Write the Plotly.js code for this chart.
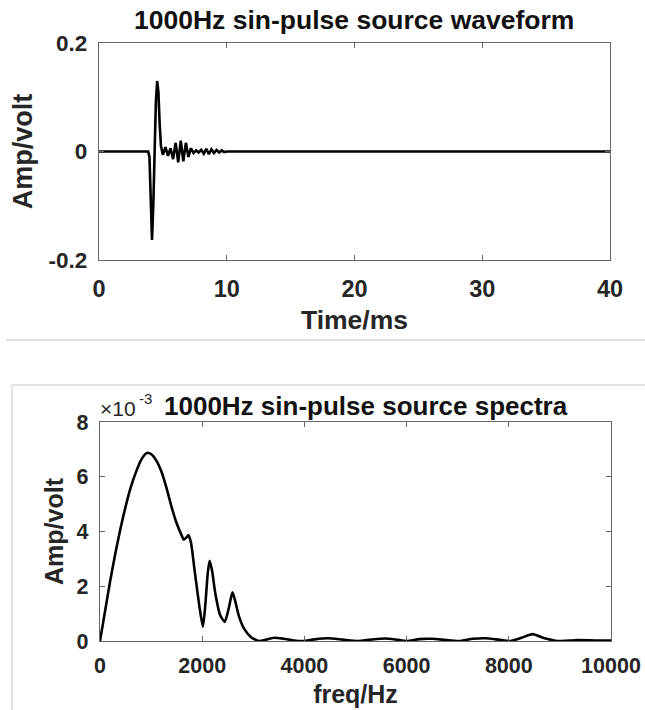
<!DOCTYPE html>
<html>
<head>
<meta charset="utf-8">
<script src="https://cdn.plot.ly/plotly-3.0.1.min.js"></script>
<style>
html,body{margin:0;padding:0;background:#fff;}
#chart{width:645px;height:710px;}
</style>
</head>
<body>
<div id="chart"></div>
<script>
// ---- Waveform (top) ----
var waveTime = [0, 3.85, 3.95, 4.05, 4.15, 4.25, 4.35, 4.45, 4.55, 4.65, 4.75, 4.85, 5.0, 5.2, 5.4, 5.6, 5.8, 6.0, 6.2, 6.4, 6.6, 6.8, 7.0, 7.2, 7.4, 7.6, 7.8, 8.0, 8.2, 8.4, 8.6, 8.8, 9.0, 9.2, 9.4, 9.6, 9.8, 10, 12, 40];
var waveAmp  = [0, 0, -0.01, -0.10, -0.163, -0.10, 0.0, 0.09, 0.13, 0.11, 0.05, 0.01, -0.006, 0.008, -0.008, 0.006, -0.014, 0.016, -0.02, 0.02, -0.018, 0.016, -0.01, 0.006, -0.003, 0.002, -0.002, 0.003, -0.004, 0.005, -0.005, 0.004, -0.003, 0.003, -0.002, 0.002, -0.001, 0, 0, 0];
var waveXTicks = [0, 10, 20, 30, 40];
var waveXTickText = ["0", "10", "20", "30", "40"];
var waveYTicks = [-0.2, 0, 0.2];
var waveYTickText = ["-0.2", "0", "0.2"];

// ---- Spectrum (bottom), amplitude in units of 1e-3 volt ----
var specFreq = [0, 100, 200, 300, 400, 500, 600, 700, 800, 900, 950, 1000, 1100, 1200, 1300, 1400, 1500, 1600, 1640, 1700, 1730, 1780, 1850, 1950, 2014, 2060, 2110, 2146, 2190, 2260, 2350, 2441, 2520, 2592, 2640, 2720, 2820, 2950, 3110, 3250, 3410, 3600, 3800, 3970, 4200, 4460, 4750, 5050, 5300, 5580, 5800, 6000, 6250, 6500, 6750, 7020, 7300, 7540, 7800, 8030, 8250, 8465, 8700, 8960, 9300, 9700, 10000];
var specAmp = [0, 1.1, 2.2, 3.2, 4.1, 4.9, 5.6, 6.15, 6.6, 6.85, 6.87, 6.83, 6.6, 6.2, 5.6, 4.9, 4.3, 3.85, 3.7, 3.8, 3.87, 3.6, 2.6, 1.2, 0.52, 1.3, 2.5, 2.93, 2.6, 1.7, 0.95, 0.7, 1.2, 1.78, 1.5, 0.9, 0.45, 0.15, 0.0, 0.05, 0.12, 0.08, 0.02, 0.0, 0.06, 0.1, 0.05, 0.0, 0.05, 0.09, 0.05, 0.0, 0.07, 0.08, 0.04, 0.0, 0.08, 0.1, 0.05, 0.0, 0.12, 0.25, 0.1, 0.0, 0.03, 0.02, 0.02];
var specXTicks = [0, 2000, 4000, 6000, 8000, 10000];
var specXTickText = ["0", "2000", "4000", "6000", "8000", "10000"];
var specYTicks = [0, 2, 4, 6, 8];
var specYTickText = ["0", "2", "4", "6", "8"];

var W = 645, H = 710;
function px(x){ return x / W; }
function py(y){ return 1 - y / H; }

var FONT = '"Liberation Sans", Arial, Helvetica, sans-serif';
var TXT = '#262626';
var AXC = '#666666';

var traces = [
  {x: waveTime, y: waveAmp, type: 'scatter', mode: 'lines', xaxis: 'x', yaxis: 'y',
   line: {color: '#000', width: 2.6}, hoverinfo: 'skip', showlegend: false},
  {x: specFreq, y: specAmp, type: 'scatter', mode: 'lines', xaxis: 'x2', yaxis: 'y2',
   line: {color: '#000', width: 2.6, shape: 'spline', smoothing: 0.6}, hoverinfo: 'skip', showlegend: false}
];

function f(size){ return {family: FONT, size: size, color: TXT, weight: 'bold'}; }

function axisCommon(){
  return {showgrid: false, zeroline: false, showline: true, linecolor: AXC, linewidth: 1.3,
          mirror: 'ticks', ticks: 'inside', ticklen: 5, tickwidth: 1, tickcolor: AXC,
          fixedrange: true, automargin: false};
}

var xa = Object.assign(axisCommon(), {domain: [px(99), px(610)], range: [0, 40], tickvals: waveXTicks, ticktext: waveXTickText,
  tickfont: f(23.5), anchor: 'y', title: {text: 'Time/ms', font: f(26.5), standoff: 10}, ticklabelstandoff: 7});
var ya = Object.assign(axisCommon(), {domain: [py(260), py(43)], range: [-0.2, 0.2], tickvals: waveYTicks, ticktext: waveYTickText,
  tickfont: f(22.5), anchor: 'x', title: {text: 'Amp/volt', font: f(27), standoff: 8}, ticklabelstandoff: 6});
var xa2 = Object.assign(axisCommon(), {domain: [px(100), px(611)], range: [0, 10000], tickvals: specXTicks, ticktext: specXTickText,
  tickfont: f(21.5), anchor: 'y2', title: {text: 'freq/Hz', font: f(25), standoff: 8}, ticklabelstandoff: 5});
var ya2 = Object.assign(axisCommon(), {domain: [py(641), py(422)], range: [0, 8], tickvals: specYTicks, ticktext: specYTickText,
  tickfont: f(21.5), anchor: 'x2', title: {text: 'Amp/volt', font: f(25), standoff: 5}, ticklabelstandoff: 6});

var layout = {
  width: W, height: H,
  margin: {l: 0, r: 0, t: 0, b: 0},
  paper_bgcolor: '#fff', plot_bgcolor: '#fff',
  font: {family: FONT, color: TXT},
  xaxis: xa, yaxis: ya, xaxis2: xa2, yaxis2: ya2,
  annotations: [
    {text: '1000Hz sin-pulse source waveform', xref: 'paper', yref: 'paper', x: px(354), y: py(20),
     xanchor: 'center', yanchor: 'middle', showarrow: false, font: {family: FONT, size: 26.5, color: '#111', weight: 'bold'}},
    {text: '1000Hz sin-pulse source spectra', xref: 'paper', yref: 'paper', x: px(366), y: py(406),
     xanchor: 'center', yanchor: 'middle', showarrow: false, font: {family: FONT, size: 26, color: '#111', weight: 'bold'}},
    {text: '\u00d710', xref: 'paper', yref: 'paper', x: px(99), y: py(408), borderpad: 0,
     xanchor: 'left', yanchor: 'middle', showarrow: false, font: {family: FONT, size: 21, color: TXT}},
    {text: '-3', xref: 'paper', yref: 'paper', x: px(138), y: py(398), borderpad: 0,
     xanchor: 'left', yanchor: 'middle', showarrow: false, font: {family: FONT, size: 15, color: TXT}}
  ],
  shapes: [
    {type: 'line', xref: 'paper', yref: 'paper', x0: px(6), x1: 1, y0: py(340), y1: py(340), line: {color: '#c8c8c8', width: 1}},
    {type: 'line', xref: 'paper', yref: 'paper', x0: px(12), x1: 1, y0: py(385), y1: py(385), line: {color: '#c8c8c8', width: 1}},
    {type: 'line', xref: 'paper', yref: 'paper', x0: px(12), x1: px(12), y0: py(385), y1: 0, line: {color: '#c8c8c8', width: 1}}
  ]
};

Plotly.newPlot('chart', traces, layout, {staticPlot: true, displayModeBar: false});
</script>
</body>
</html>
